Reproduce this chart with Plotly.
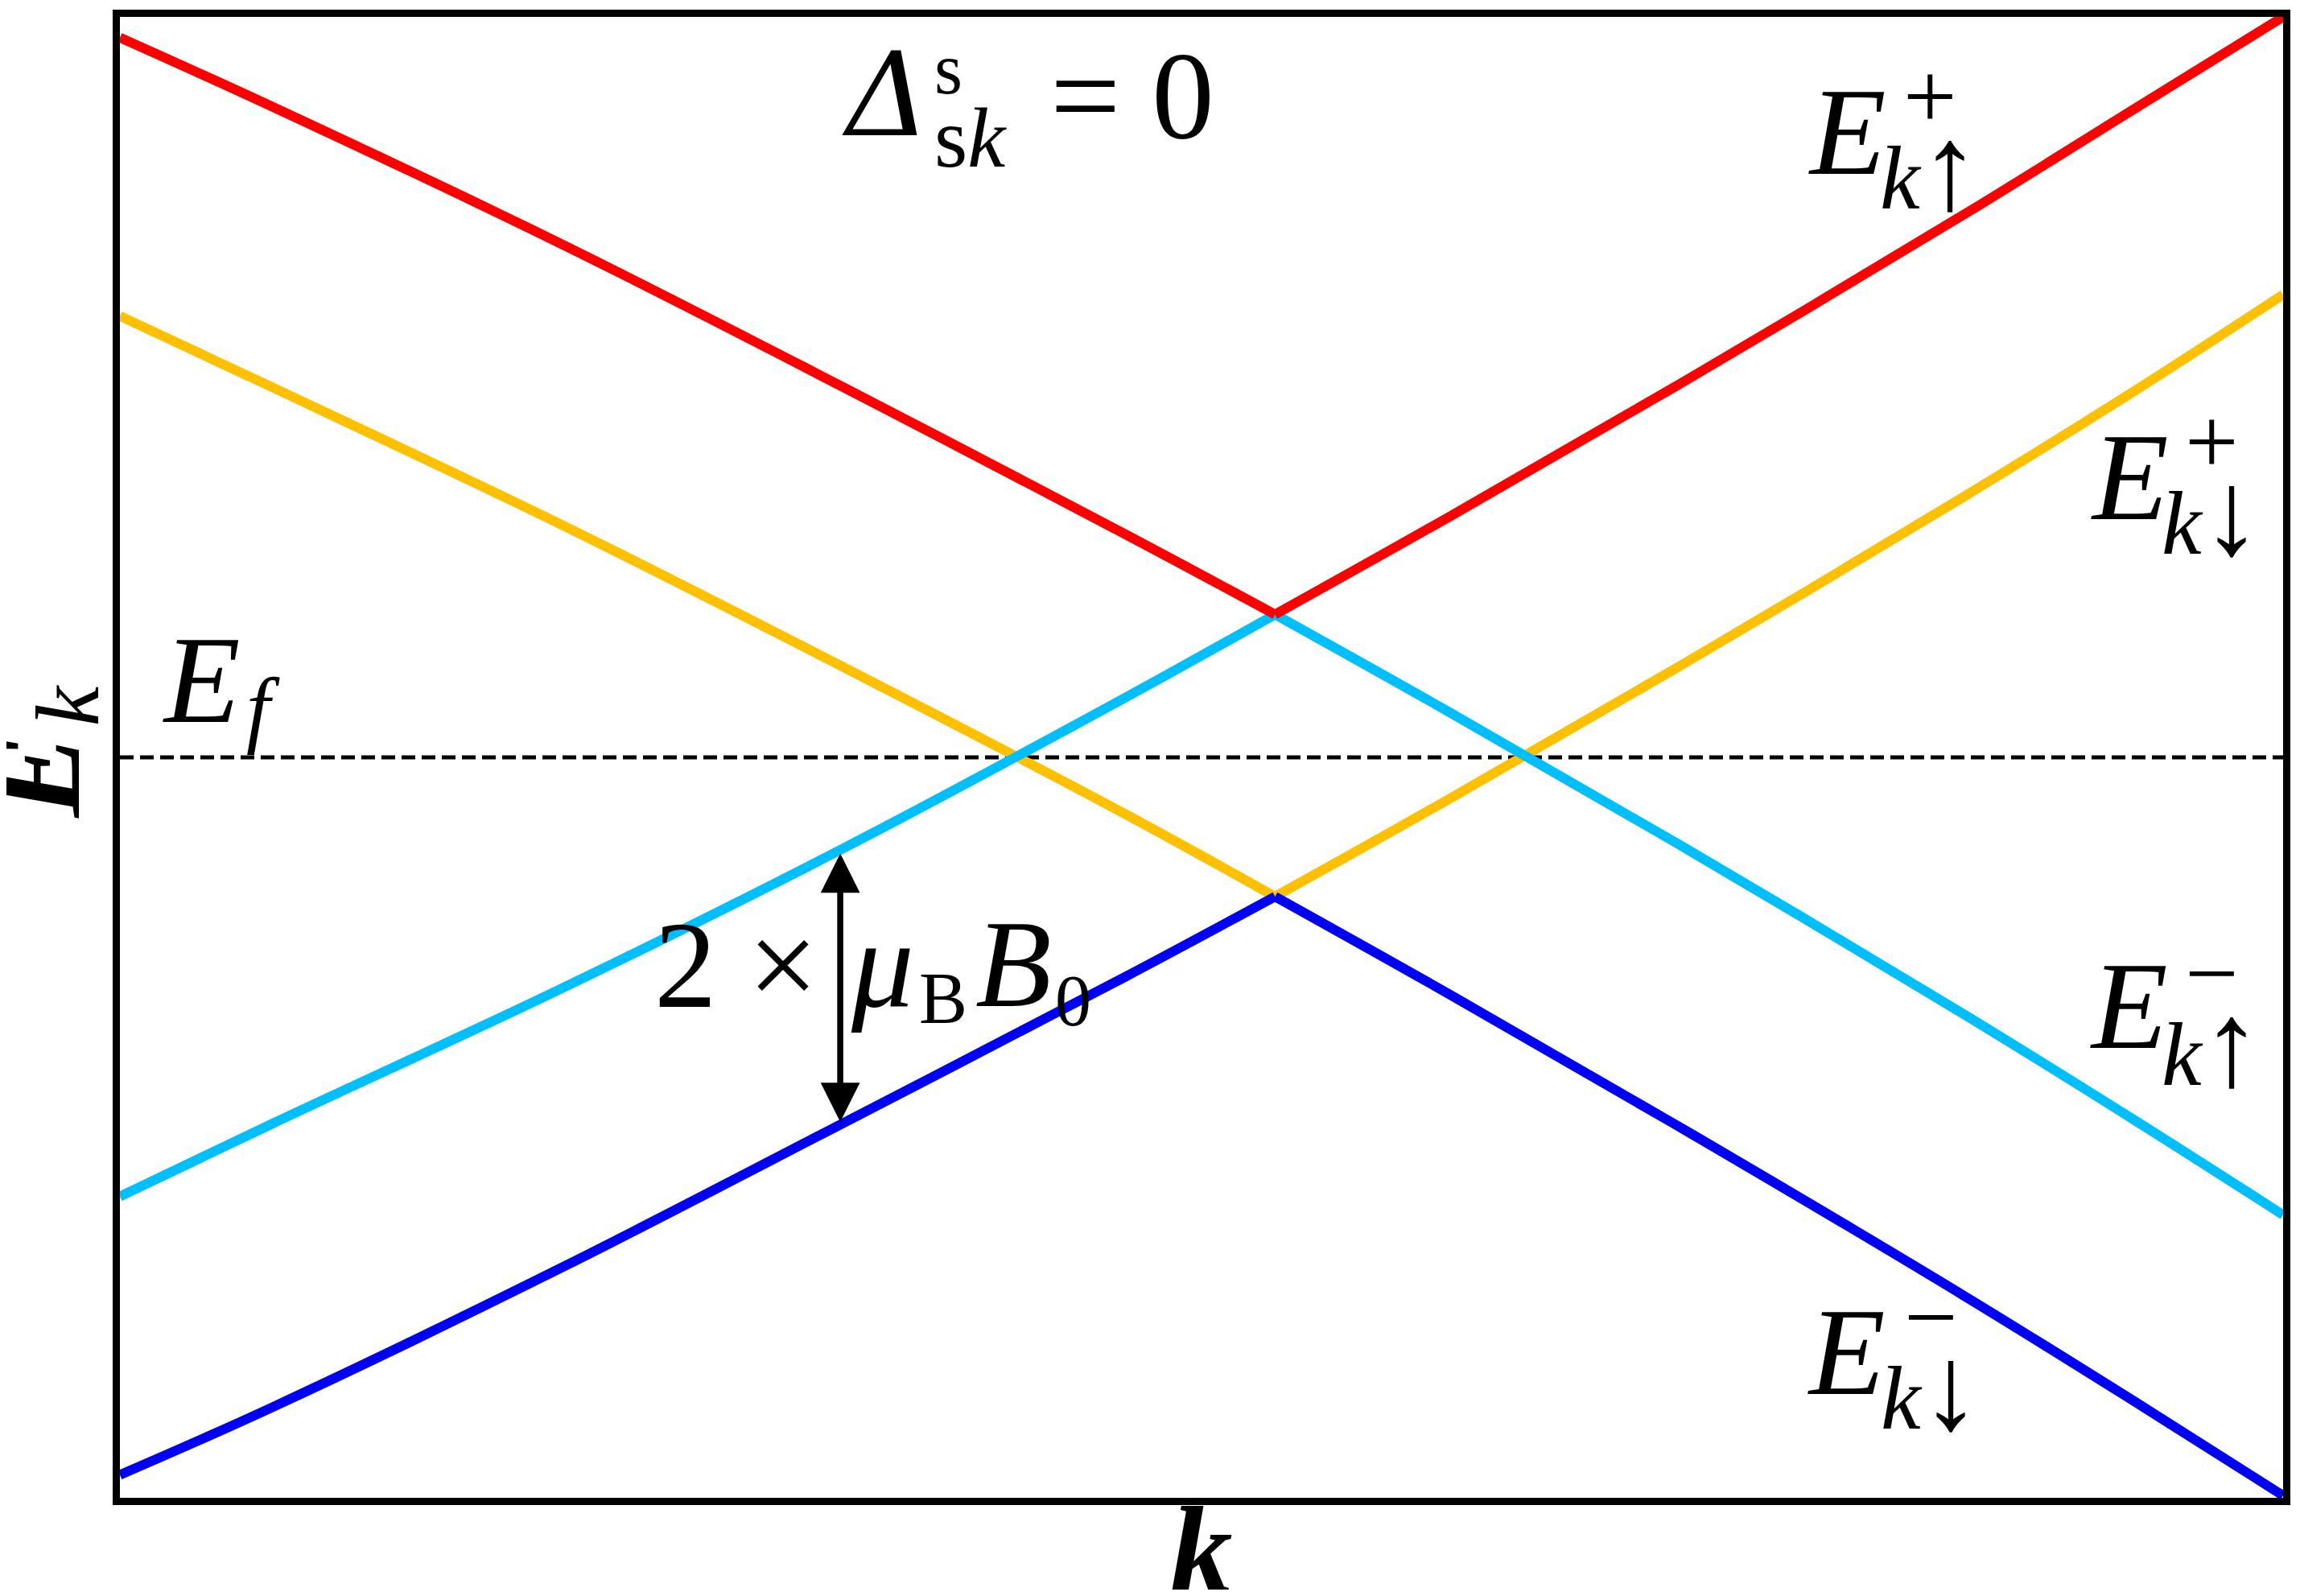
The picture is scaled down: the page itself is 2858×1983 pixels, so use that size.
import plotly.graph_objects as go

# k positions (fraction of the plotted k window) where the bands were read
k = [0.0, 0.071, 0.205, 0.333, 0.465, 0.534, 0.614, 0.725, 0.853, 0.933, 1.0]
VERTEX = 5  # index of the band touching point

# band energies, Fermi level at 0, energy axis spans -1..1
E_up_plus = [0.972, 0.878, 0.692, 0.502, 0.301, 0.193, 0.324, 0.511, 0.734, 0.879, 1.0]
E_dn_plus = [0.596, 0.499, 0.313, 0.124, -0.077, -0.188, -0.057, 0.130, 0.353, 0.498, 0.625]
E_up_minus = [-0.593, -0.494, -0.311, -0.125, 0.081, 0.193, 0.062, -0.125, -0.348, -0.493, -0.618]
E_dn_minus = [-0.969, -0.877, -0.688, -0.496, -0.296, -0.188, -0.319, -0.506, -0.728, -0.873, -0.997]

E_f = 0.0

# Zeeman gap marker: k position and the two band energies it spans
gap_k = 0.333
gap_top = -0.130
gap_bottom = -0.494

FONT = "Liberation Serif, DejaVu Serif, serif"
BIG = 155

fig = go.Figure()

fig.add_trace(go.Scatter(x=[k[0], k[-1]], y=[E_f, E_f], mode="lines",
                         line=dict(color="black", width=5, dash="17px,8px")))

bands = [
    (E_dn_plus, "#FFC000"),
    (E_up_minus, "#00BFFF"),
    (E_up_plus, "#FF0000"),
    (E_dn_minus, "#0000F5"),
]
for vals, col in bands:
    # two branches, smoothed separately so the touching point stays sharp
    for sl in (slice(0, VERTEX + 1), slice(VERTEX, None)):
        fig.add_trace(go.Scatter(x=k[sl], y=vals[sl], mode="lines",
                                 line=dict(color=col, width=12, shape="spline",
                                           smoothing=1.0)))


def label(x, y, text, size=BIG, xref="x", yref="y", angle=0,
          xanchor="center", align="center", family=FONT):
    fig.add_annotation(x=x, y=y, xref=xref, yref=yref, text=text,
                       showarrow=False, xanchor=xanchor, yanchor="middle",
                       textangle=angle, align=align,
                       font=dict(family=family, size=size, color="black"))


def sized(txt, px):
    return '<span style="font-size:%dpx">%s</span>' % (px, txt)


def scripts(sup, sub):
    # superscript stacked over subscript, two lines of one text block
    return sized(sup, 118) + "<br>" + sub


SUB_UP = sized("<i>k</i>", 112) + sized("↑", 150)
SUB_DOWN = sized("<i>k</i>", 112) + sized("↓", 150)

# band labels
label(0.7985, 0.8442, "<i>E</i>")
label(0.8368, 0.8345, scripts("+", SUB_UP), 76)

label(0.9290, 0.3786, "<i>E</i>")
label(0.9669, 0.3683, scripts("+", SUB_DOWN), 76)

label(0.9286, -0.3359, "<i>E</i>")
label(0.9669, -0.3488, scripts("−", SUB_UP), 76)

label(0.7981, -0.8031, "<i>E</i>")
label(0.8372, -0.8128, scripts("−", SUB_DOWN), 76)

# Fermi level
label(0.0379, 0.1044, "<i>E</i>")
label(0.0662, 0.0665, "<i>f</i>", 106)

# Delta^s_sk = 0
label(0.3543, 0.895, "<i>Δ</i>", 145, family="DejaVu Serif, serif")
label(0.3758, 0.8778, sized("s", 90) + "<br>" + sized("s<i>k</i>", 106), 70,
      xanchor="left", align="left")
label(0.468, 0.893, "= 0")

# 2 x mu_B B_0 beside the gap arrow
label(0.2848, -0.2806, "2 ×")
label(0.3524, -0.2796, "<i>μ</i>")
label(0.3807, -0.3250, "B", 90)
label(0.4130, -0.2796, "<i>B</i>")
label(0.4405, -0.3283, "0", 90)

fig.add_annotation(x=gap_k, y=gap_top, ax=gap_k, ay=gap_bottom,
                   xref="x", yref="y", axref="x", ayref="y", text="",
                   showarrow=True, arrowside="end+start",
                   arrowhead=2, startarrowhead=2,
                   arrowsize=1.3, startarrowsize=1.3,
                   arrowwidth=7.5, arrowcolor="black")

# axis titles
label(-0.0383, 0.4867, "<b><i>E</i></b>", BIG, "paper", "paper", -90)
label(-0.0242, 0.5350, "<i>k</i>", 112, "paper", "paper", -90)
label(0.5, -0.0357, "<b><i>k</i></b>", BIG, "paper", "paper")

axis = dict(showline=True, mirror=True, linewidth=9, linecolor="black",
            showgrid=False, zeroline=False, ticks="", showticklabels=False)

# page body keeps an 8px margin, so the figure is 16px smaller than the window
fig.update_layout(
    width=2842, height=1967,
    margin=dict(l=141, r=11, t=4, b=114),
    plot_bgcolor="white", paper_bgcolor="white",
    showlegend=False,
    xaxis=dict(range=[0, 1], **axis),
    yaxis=dict(range=[-1, 1], **axis),
)

fig.write_html("out.html", config={"displayModeBar": False})
